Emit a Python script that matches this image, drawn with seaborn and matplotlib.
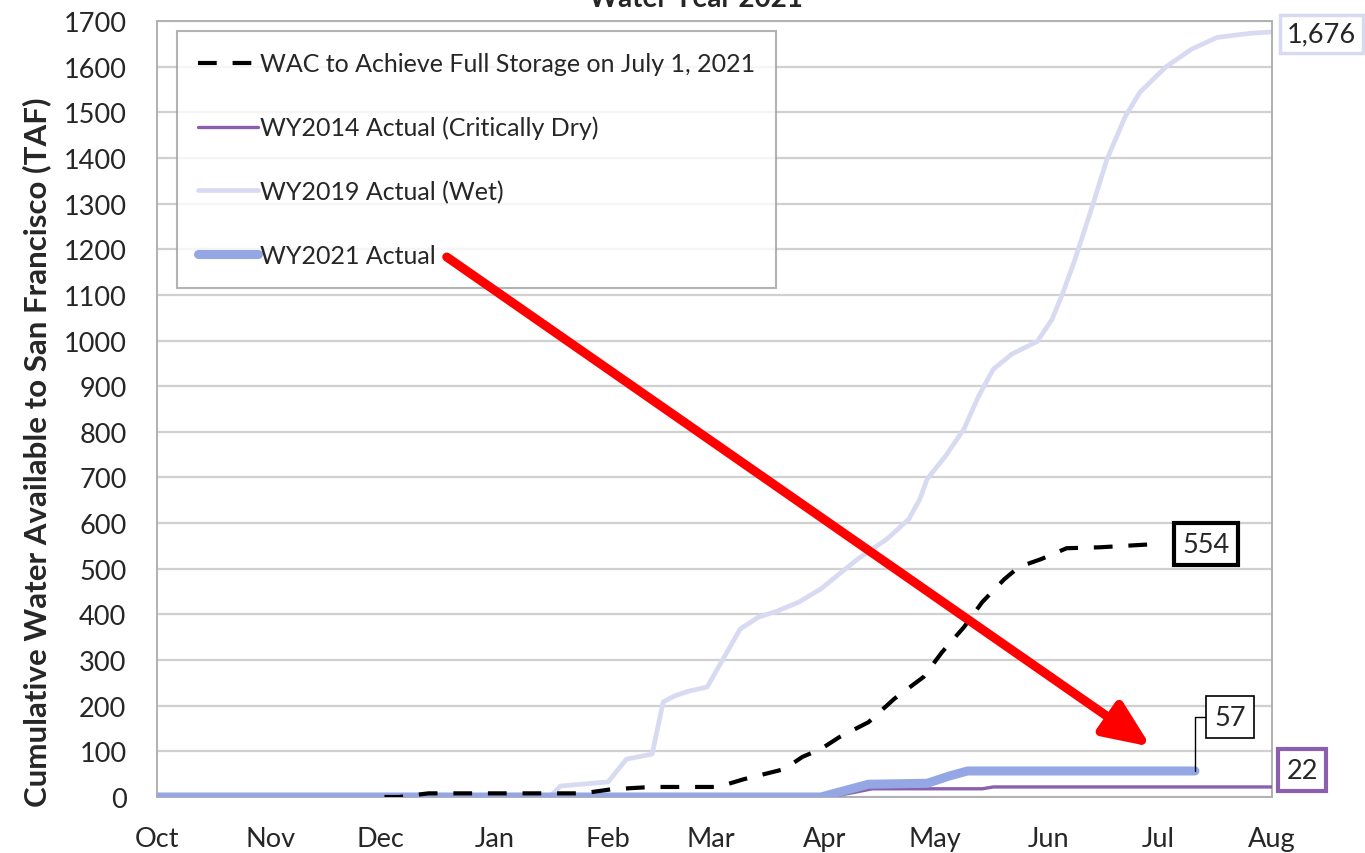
import numpy as np
import seaborn as sns
import matplotlib.pyplot as plt

sns.set_style("white")
plt.rcParams['font.family'] = ['Lato', 'DejaVu Sans']

# days since Oct 1, 2020 and cumulative TAF
wac_day = [62, 66, 74, 116, 124, 135, 153, 160, 171, 176, 181, 186, 194, 201, 209, 214, 220, 225, 231, 235, 241, 248, 257, 272]
wac_val = [0, 0, 8, 8, 17, 22, 22, 39, 61, 88, 105, 131, 164, 215, 263, 317, 372, 427, 477, 504, 521, 545, 547, 554]

wy2014_day = [0, 152, 155, 186, 190, 195, 225, 228, 304]
wy2014_val = [0, 0, 4, 4, 10, 18, 18, 22, 22]

wy2019_day = [0, 107, 110, 123, 128, 135, 138, 141, 145, 150, 159, 164, 169, 175, 181, 191, 199,
              205, 208, 210, 215, 220, 224, 228, 233, 240, 244, 247, 250, 255, 259, 264, 268,
              275, 282, 289, 298, 304]
wy2019_val = [0, 0, 24, 33, 83, 94, 208, 221, 232, 241, 368, 394, 407, 427, 456, 521, 565,
              609, 653, 697, 747, 806, 878, 937, 970, 998, 1046, 1105, 1171, 1294, 1397, 1491, 1544,
              1599, 1638, 1664, 1673, 1676]

wy2021_day = [0, 181, 187, 194, 210, 216, 221, 283]
wy2021_val = [0, 0, 13, 28, 30, 46, 57, 57]

month_days = [0, 31, 61, 92, 123, 151, 182, 212, 243, 273, 304]
month_labels = ['Oct', 'Nov', 'Dec', 'Jan', 'Feb', 'Mar', 'Apr', 'May', 'Jun', 'Jul', 'Aug']

c_wac = 'black'
c_2014 = '#8b5fad'
c_2019 = '#d8daf2'
c_2021 = '#94a7e4'

fig = plt.figure(figsize=(13.65, 8.54), dpi=100)
ax = fig.add_axes([157 / 1365, 1 - 798 / 854, 1115 / 1365, 776 / 854])

sns.lineplot(x=wac_day, y=wac_val, ax=ax, color=c_wac, lw=3,
             linestyle=(0, (4.5, 3.8)), label='WAC to Achieve Full Storage on July 1, 2021', zorder=5)
sns.lineplot(x=wy2014_day, y=wy2014_val, ax=ax, color=c_2014, lw=2.4,
             label='WY2014 Actual (Critically Dry)', zorder=3)
sns.lineplot(x=wy2019_day, y=wy2019_val, ax=ax, color=c_2019, lw=3.4,
             label='WY2019 Actual (Wet)', zorder=2)
sns.lineplot(x=wy2021_day, y=wy2021_val, ax=ax, color=c_2021, lw=6.5,
             label='WY2021 Actual', zorder=4, solid_capstyle='round')

ax.set_xlim(0, 304)
ax.set_ylim(0, 1700)
ax.set_yticks(np.arange(0, 1701, 100))
ax.set_xticks(month_days)
ax.set_xticklabels(month_labels)
ax.tick_params(axis='y', length=8, width=1.2, color='#a0a0a0', labelsize=19.5, pad=14)
ax.tick_params(axis='x', length=0, labelsize=19.5, pad=21)
ax.grid(axis='y', color='#d0d0d0', lw=1.6)
ax.set_axisbelow(True)
for s in ax.spines.values():
    s.set_color('#b0b0b0')
    s.set_linewidth(1.4)

ax.set_ylabel('Cumulative Water Available to San Francisco (TAF)', fontsize=22.5,
              fontweight='bold')
ax.yaxis.set_label_coords(-0.095, 0.446)
fig.text(0.51, 1 - 7 / 854, 'Water Year 2021', ha='center', va='baseline',
         fontsize=20, fontweight='bold')

leg = ax.legend(loc='upper left', bbox_to_anchor=(0.018, 0.987), borderaxespad=0,
                fontsize=18, frameon=True, fancybox=False, edgecolor='#a0a0a0',
                handlelength=2.4, handletextpad=0.05, labelspacing=1.62, borderpad=0.85)
leg.get_frame().set_linewidth(1.5)

# red arrow
ax.annotate('', xy=(271, 110), xytext=(79, 1183),
            arrowprops=dict(arrowstyle='-|>,head_length=1.4,head_width=0.6', color='red',
                            lw=6.5, mutation_scale=20, shrinkA=0, shrinkB=0), zorder=6)

# end labels
ax.text(286, wac_val[-1], f'{wac_val[-1]:,}', fontsize=19.5, ha='center', va='center',
        bbox=dict(boxstyle='square,pad=0.3', fc='white', ec='black', lw=3), zorder=7)
ax.annotate(f'{wy2021_val[-1]:,}', xy=(wy2021_day[-1], wy2021_val[-1]), xytext=(292.5, 175),
            fontsize=19.5, ha='center', va='center',
            bbox=dict(boxstyle='square,pad=0.3', fc='white', ec='black', lw=1.2),
            arrowprops=dict(arrowstyle='-', color='black', lw=1,
                            connectionstyle='angle,angleA=0,angleB=90,rad=0',
                            shrinkA=0, shrinkB=0), zorder=7)
ax.text(312.2, 59, f'{wy2014_val[-1]:,}', fontsize=19.5, ha='center', va='center',
        bbox=dict(boxstyle='square,pad=0.3', fc='white', ec=c_2014, lw=3), zorder=7)
ax.text(317.5, 1672, f'{wy2019_val[-1]:,}', fontsize=19.5, ha='center', va='center',
        bbox=dict(boxstyle='square,pad=0.25', fc='white', ec=c_2019, lw=2.5), zorder=7)

fig.savefig('out.png', dpi=100)
